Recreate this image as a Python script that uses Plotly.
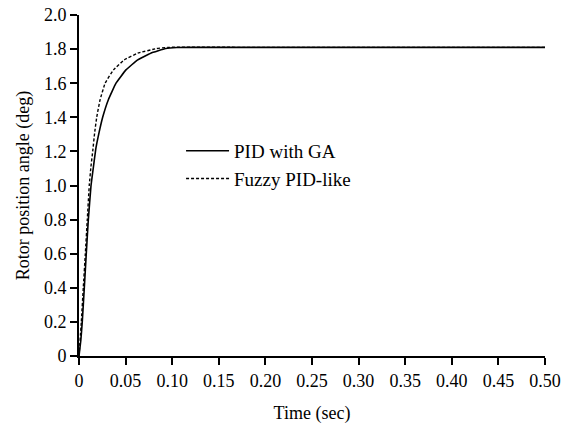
import plotly.graph_objects as go

# PID with GA (solid)
t_ga = [0, 0.002, 0.0035, 0.0057, 0.0078, 0.010, 0.0129, 0.0155, 0.0182, 0.0215,
        0.0254, 0.0315, 0.0397, 0.0504, 0.063, 0.077, 0.093, 0.105, 0.12, 0.2,
        0.3, 0.4, 0.5]
y_ga = [0, 0.094, 0.2, 0.4, 0.6, 0.8, 1.0, 1.11, 1.22, 1.31,
        1.4, 1.503, 1.6, 1.678, 1.737, 1.776, 1.803, 1.809, 1.81, 1.81,
        1.81, 1.81, 1.81]

# Fuzzy PID-like (dashed)
t_fz = [0, 0.0025, 0.0046, 0.0068, 0.0089, 0.011, 0.0128, 0.0147, 0.0168, 0.019,
        0.0225, 0.028, 0.037, 0.0486, 0.063, 0.083, 0.095, 0.2, 0.3, 0.4, 0.5]
y_fz = [0, 0.2, 0.4, 0.6, 0.8, 1.0, 1.11, 1.2, 1.31, 1.4,
        1.5, 1.6, 1.678, 1.737, 1.776, 1.803, 1.81, 1.81, 1.81, 1.81, 1.81]

x_ticks = [0, 0.05, 0.10, 0.15, 0.20, 0.25, 0.30, 0.35, 0.40, 0.45, 0.50]
x_labels = ["0", "0.05", "0.10", "0.15", "0.20", "0.25", "0.30", "0.35", "0.40", "0.45", "0.50"]
y_ticks = [0, 0.2, 0.4, 0.6, 0.8, 1.0, 1.2, 1.4, 1.6, 1.8, 2.0]
y_labels = ["0", "0.2", "0.4", "0.6", "0.8", "1.0", "1.2", "1.4", "1.6", "1.8", "2.0"]

SERIF = "Liberation Serif, Times New Roman, Times, serif"
FS = 18

fig = go.Figure()
fig.add_trace(go.Scatter(x=t_ga, y=y_ga, mode="lines", name="PID with GA",
                         line=dict(color="black", width=1.6, shape="spline", smoothing=0.3)))
fig.add_trace(go.Scatter(x=t_fz, y=y_fz, mode="lines", name="Fuzzy PID-like",
                         line=dict(color="black", width=1.4, dash="3px,2px", shape="spline", smoothing=0.3)))

fig.update_layout(
    width=562, height=428,
    margin=dict(l=79, r=17, t=15, b=72, autoexpand=False),
    paper_bgcolor="white", plot_bgcolor="white",
    font=dict(family=SERIF, size=FS, color="black"),
    showlegend=True,
    legend=dict(x=0.219, y=0.657, xanchor="left", yanchor="top",
                bgcolor="rgba(0,0,0,0)", font=dict(family=SERIF, size=19, color="black"),
                tracegroupgap=0, itemwidth=43),
)
fig.update_xaxes(range=[0, 0.5], tickvals=x_ticks, ticktext=x_labels, automargin=False,
                 showgrid=False, zeroline=False, showline=True, linecolor="black",
                 linewidth=2, ticks="outside", ticklen=7, tickwidth=2, tickcolor="black",
                 title=dict(text="Time (sec)", standoff=17, font=dict(family=SERIF, size=FS)),
                 tickfont=dict(family=SERIF, size=FS, color="black"))
fig.update_yaxes(range=[0, 2.0], tickvals=y_ticks, ticktext=y_labels, automargin=False,
                 showgrid=False, zeroline=False, showline=True, linecolor="black",
                 linewidth=2, ticks="outside", ticklen=7, tickwidth=2, tickcolor="black",
                 title=dict(text="Rotor position angle (deg)", standoff=10,
                            font=dict(family=SERIF, size=FS)),
                 tickfont=dict(family=SERIF, size=FS, color="black"))

fig.write_html("out.html", config={"displayModeBar": False},
               post_script="document.body.style.margin='0';")
